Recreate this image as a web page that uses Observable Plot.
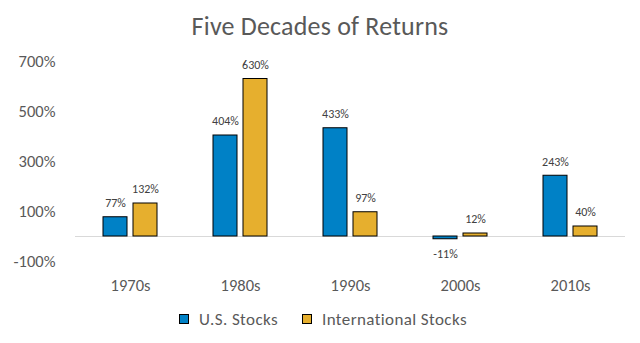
<!DOCTYPE html>
<html>
<head>
<meta charset="utf-8">
<script src="https://cdn.jsdelivr.net/npm/d3@7"></script>
<script src="https://cdn.jsdelivr.net/npm/@observablehq/plot@0.6"></script>
<style>
  html, body { margin: 0; padding: 0; background: #fff; }
  body { width: 640px; height: 343px; overflow: hidden; font-family: Calibri, Carlito, Lato, sans-serif; color: #595959; }
  #title { height: 48px; line-height: 52px; text-align: center; font-size: 26px; color: #595959; letter-spacing: 0.2px; }
  #chart svg { display: block; }
  #legend { display: flex; justify-content: center; align-items: center; height: 30px; margin-top: 6px; font-size: 17px; letter-spacing: 0.4px; color: #595959; padding-left: 6px; }
  .item { display: flex; align-items: center; margin: 0 12px; }
  .sw { width: 8px; height: 8px; border: 1px solid #000; margin-right: 10px; }
</style>
</head>
<body>
<div id="title">Five Decades of Returns</div>
<div id="chart"></div>
<div id="legend"></div>
<script>
const decades = ["1970s", "1980s", "1990s", "2000s", "2010s"];
const seriesNames = ["U.S. Stocks", "International Stocks"];
const seriesColors = ["#0081C6", "#E6AF2E"];
const usReturns = [77, 404, 433, -11, 243];
const intlReturns = [132, 630, 97, 12, 40];
const yTicks = [-100, 100, 300, 500, 700];

const data = [];
decades.forEach((d, i) => {
  data.push({decade: d, series: seriesNames[0], value: usReturns[i]});
  data.push({decade: d, series: seriesNames[1], value: intlReturns[i]});
});

const chart = Plot.plot({
  width: 640,
  height: 250,
  marginTop: 13,
  marginBottom: 37,
  marginLeft: 74,
  marginRight: 14,
  style: {fontFamily: "Calibri, Carlito, Lato, sans-serif", color: "#595959", background: "#fff"},
  fx: {domain: decades, padding: 0, label: null, axis: null},
  x: {domain: seriesNames, paddingInner: 0.1935, paddingOuter: 0.877, axis: null},
  y: {domain: [-100, 700], label: null, axis: null},
  color: {domain: seriesNames, range: seriesColors},
  marks: [
    Plot.axisY({ticks: yTicks, tickFormat: d => d + "%", tickSize: 0, tickPadding: 20, fontSize: 16.5, label: null, fill: "#595959"}),
    Plot.axisFx({anchor: "bottom", tickSize: 0, tickPadding: 18, fontSize: 16.5, label: null, fill: "#595959"}),
    Plot.ruleY([0], {stroke: "#d9d9d9", strokeWidth: 1}),
    Plot.barY(data, {fx: "decade", x: "series", y: "value", fill: "series", stroke: "#000", strokeWidth: 1}),
    Plot.text(data.filter(d => d.value >= 0), {fx: "decade", x: "series", y: "value", text: d => d.value + "%", dy: -14, fontSize: 12, fill: "#404040"}),
    Plot.text(data.filter(d => d.value < 0), {fx: "decade", x: "series", y: "value", text: d => d.value + "%", dy: 15, fontSize: 12, fill: "#404040"})
  ]
});
document.getElementById("chart").appendChild(chart);

const legend = document.getElementById("legend");
seriesNames.forEach((name, i) => {
  const item = document.createElement("div");
  item.className = "item";
  const sw = document.createElement("div");
  sw.className = "sw";
  sw.style.background = seriesColors[i];
  const label = document.createElement("span");
  label.textContent = name;
  item.appendChild(sw);
  item.appendChild(label);
  legend.appendChild(item);
});
</script>
</body>
</html>
